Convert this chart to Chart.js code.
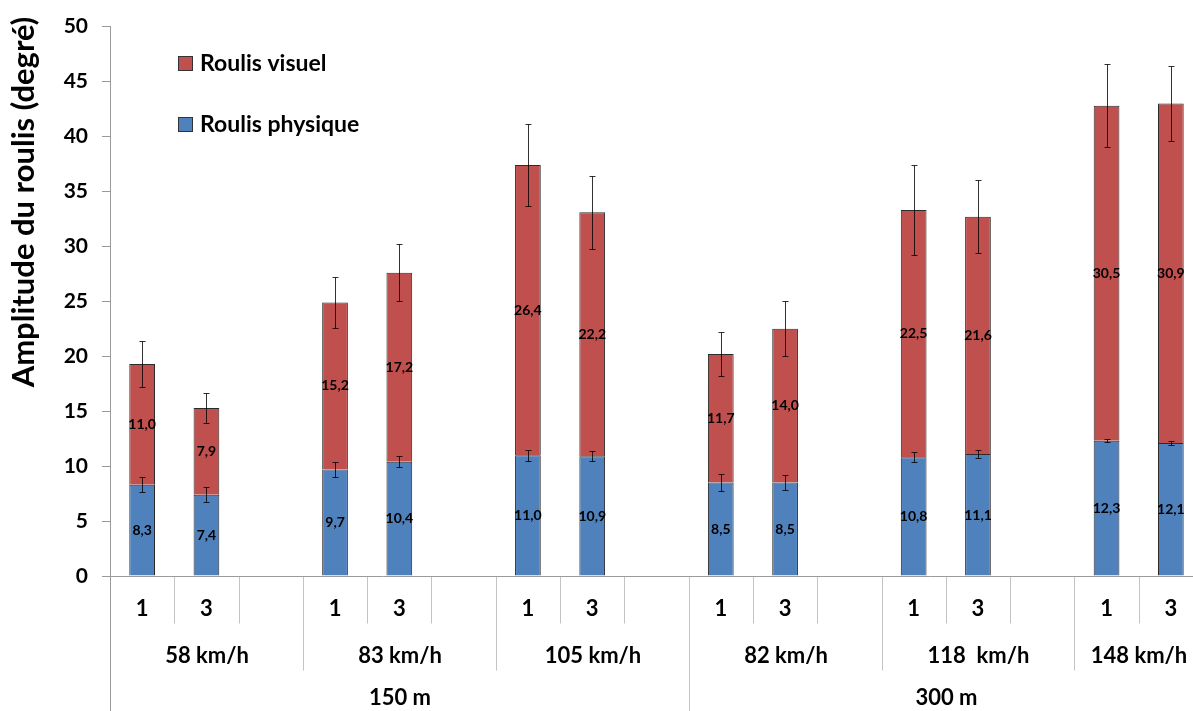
<!DOCTYPE html>
<html>
<head>
<meta charset="utf-8">
<script src="https://cdn.jsdelivr.net/npm/chart.js@4/dist/chart.umd.min.js"></script>
<style>
  html, body { margin: 0; padding: 0; overflow: hidden; background: #fff; }
  #wrap { position: absolute; left: 0; top: 0; width: 1203px; height: 711px; }
</style>
</head>
<body>
<div id="wrap"><canvas id="roulis"></canvas></div>
<script>
// slots: 1, 3, (blank) for each speed, last speed has no blank slot
const slotLabels = ['1','3','', '1','3','', '1','3','', '1','3','', '1','3','', '1','3'];
const speedLabels = ['58 km/h', '83 km/h', '105 km/h', '82 km/h', '118  km/h', '148 km/h'];
const speedSlots = [3, 3, 3, 3, 3, 2];
const distLabels = ['150 m', '300 m'];
const distSlots = [9, 8];

const physique    = [8.3, 7.4, null, 9.7, 10.4, null, 11.0, 10.9, null, 8.5, 8.5, null, 10.8, 11.1, null, 12.3, 12.1];
const visuel      = [11.0, 7.9, null, 15.2, 17.2, null, 26.4, 22.2, null, 11.7, 14.0, null, 22.5, 21.6, null, 30.5, 30.9];
const physiqueErr = [0.7, 0.7, null, 0.7, 0.5, null, 0.5, 0.45, null, 0.8, 0.65, null, 0.45, 0.4, null, 0.15, 0.2];
const visuelErr   = [2.1, 1.4, null, 2.3, 2.6, null, 3.7, 3.3, null, 2.0, 2.5, null, 4.1, 3.3, null, 3.8, 3.4];

const yTicks = { min: 0, max: 50, step: 5 };
const yTitle = 'Amplitude du roulis (degré)';

const FONT = 'Lato, "Open Sans", sans-serif';
const AXIS_GREY = '#9a9a9a';
const DIV_GREY = '#c4c4c4';

const fmt = v => v.toFixed(1).replace('.', ',');

function errBar(ctx, xc, yTop, yBot) {
  ctx.beginPath();
  ctx.moveTo(xc, yTop); ctx.lineTo(xc, yBot);
  ctx.moveTo(xc - 3, yTop); ctx.lineTo(xc + 3, yTop);
  ctx.moveTo(xc - 3, yBot); ctx.lineTo(xc + 3, yBot);
  ctx.stroke();
}

const overlay = {
  id: 'overlay',
  afterDatasetsDraw(chart) {
    const { ctx, chartArea: ca, scales: { x, y } } = chart;
    const H = chart.height;
    ctx.save();

    // value labels inside the segments
    ctx.fillStyle = '#000';
    ctx.font = 'bold 14px ' + FONT;
    ctx.textAlign = 'center';
    ctx.textBaseline = 'middle';
    physique.forEach((p, i) => {
      if (p == null) return;
      const xc = x.getPixelForValue(i);
      ctx.fillText(fmt(p), xc, y.getPixelForValue(p / 2));
      ctx.fillText(fmt(visuel[i]), xc, y.getPixelForValue(p + visuel[i] / 2));
    });

    // error bars
    ctx.strokeStyle = 'rgba(0,0,0,0.8)';
    ctx.lineWidth = 1;
    physique.forEach((p, i) => {
      if (p == null) return;
      const xc = Math.round(x.getPixelForValue(i)) + 0.5;
      const t = p + visuel[i];
      errBar(ctx, xc, Math.round(y.getPixelForValue(p + physiqueErr[i])) + 0.5, Math.round(y.getPixelForValue(p - physiqueErr[i])) + 0.5);
      errBar(ctx, xc, Math.round(y.getPixelForValue(t + visuelErr[i])) + 0.5, Math.round(y.getPixelForValue(t - visuelErr[i])) + 0.5);
    });

    // multi-level category axis
    const slotW = x.getPixelForValue(1) - x.getPixelForValue(0);
    const edge = i => Math.round(x.getPixelForValue(0) - slotW / 2 + i * slotW) + 0.5;
    const b = Math.round(ca.bottom) + 0.5;
    ctx.strokeStyle = DIV_GREY;
    ctx.beginPath();
    for (let i = 1; i < slotLabels.length; i++) { ctx.moveTo(edge(i), b); ctx.lineTo(edge(i), b + 47); }
    let acc = 0;
    speedSlots.forEach(n => { acc += n; ctx.moveTo(edge(acc), b); ctx.lineTo(edge(acc), b + 94); });
    acc = 0;
    distSlots.forEach(n => { acc += n; ctx.moveTo(edge(acc), b); ctx.lineTo(edge(acc), H); });
    ctx.stroke();
    ctx.strokeStyle = AXIS_GREY;
    ctx.beginPath();
    ctx.moveTo(edge(0), ca.top); ctx.lineTo(edge(0), H);
    ctx.moveTo(edge(0), b); ctx.lineTo(edge(slotLabels.length), b);
    ctx.stroke();

    ctx.fillStyle = '#000';
    ctx.font = 'bold 22px ' + FONT;
    slotLabels.forEach((s, i) => ctx.fillText(s, x.getPixelForValue(i), b + 32));
    acc = 0;
    speedLabels.forEach((s, k) => {
      const c = (edge(acc) + edge(acc + speedSlots[k])) / 2;
      ctx.fillText(s, c, b + 79);
      acc += speedSlots[k];
    });
    acc = 0;
    distLabels.forEach((s, k) => {
      const c = (edge(acc) + edge(acc + distSlots[k])) / 2;
      ctx.fillText(s, c, b + 121);
      acc += distSlots[k];
    });

    // y axis title
    ctx.save();
    ctx.translate(24, 202);
    ctx.rotate(-Math.PI / 2);
    ctx.font = 'bold 31px ' + FONT;
    ctx.fillText(yTitle, 0, 0);
    ctx.restore();

    // legend (reverse order: visuel on top)
    ctx.font = 'bold 23px ' + FONT;
    ctx.textAlign = 'left';
    [chart.data.datasets[1], chart.data.datasets[0]].forEach((ds, k) => {
      const cy = 63 + k * 61;
      ctx.fillStyle = ds.backgroundColor;
      ctx.fillRect(178.5, cy - 6.5, 14, 14);
      ctx.strokeStyle = '#333';
      ctx.strokeRect(178.5, cy - 6.5, 14, 14);
      ctx.fillStyle = '#000';
      ctx.fillText(ds.label, 200, cy + 1);
    });

    ctx.restore();
  }
};

new Chart(document.getElementById('roulis'), {
  type: 'bar',
  data: {
    labels: slotLabels,
    datasets: [{
      label: 'Roulis physique',
      data: physique,
      backgroundColor: '#4F81BD',
      borderColor: 'rgba(20,20,20,0.9)',
      borderWidth: 1,
      barPercentage: 0.4,
      categoryPercentage: 1.0
    }, {
      label: 'Roulis visuel',
      data: visuel,
      backgroundColor: '#C0504D',
      borderColor: 'rgba(20,20,20,0.9)',
      borderWidth: 1,
      barPercentage: 0.4,
      categoryPercentage: 1.0
    }]
  },
  options: {
    responsive: true,
    maintainAspectRatio: false,
    animation: false,
    layout: { padding: { top: 26, bottom: 135, left: 0, right: 0 } },
    plugins: { legend: { display: false }, tooltip: { enabled: false } },
    scales: {
      x: { stacked: true, display: false },
      y: {
        stacked: true,
        min: yTicks.min,
        max: yTicks.max,
        ticks: {
          stepSize: yTicks.step,
          padding: 14,
          color: '#000',
          font: { family: FONT, size: 21, weight: 'bold' }
        },
        grid: { drawOnChartArea: false, drawTicks: true, tickLength: 8, color: AXIS_GREY },
        border: { color: AXIS_GREY },
        afterFit: s => { s.width = 110; }
      }
    }
  },
  plugins: [overlay]
});
</script>
</body>
</html>
